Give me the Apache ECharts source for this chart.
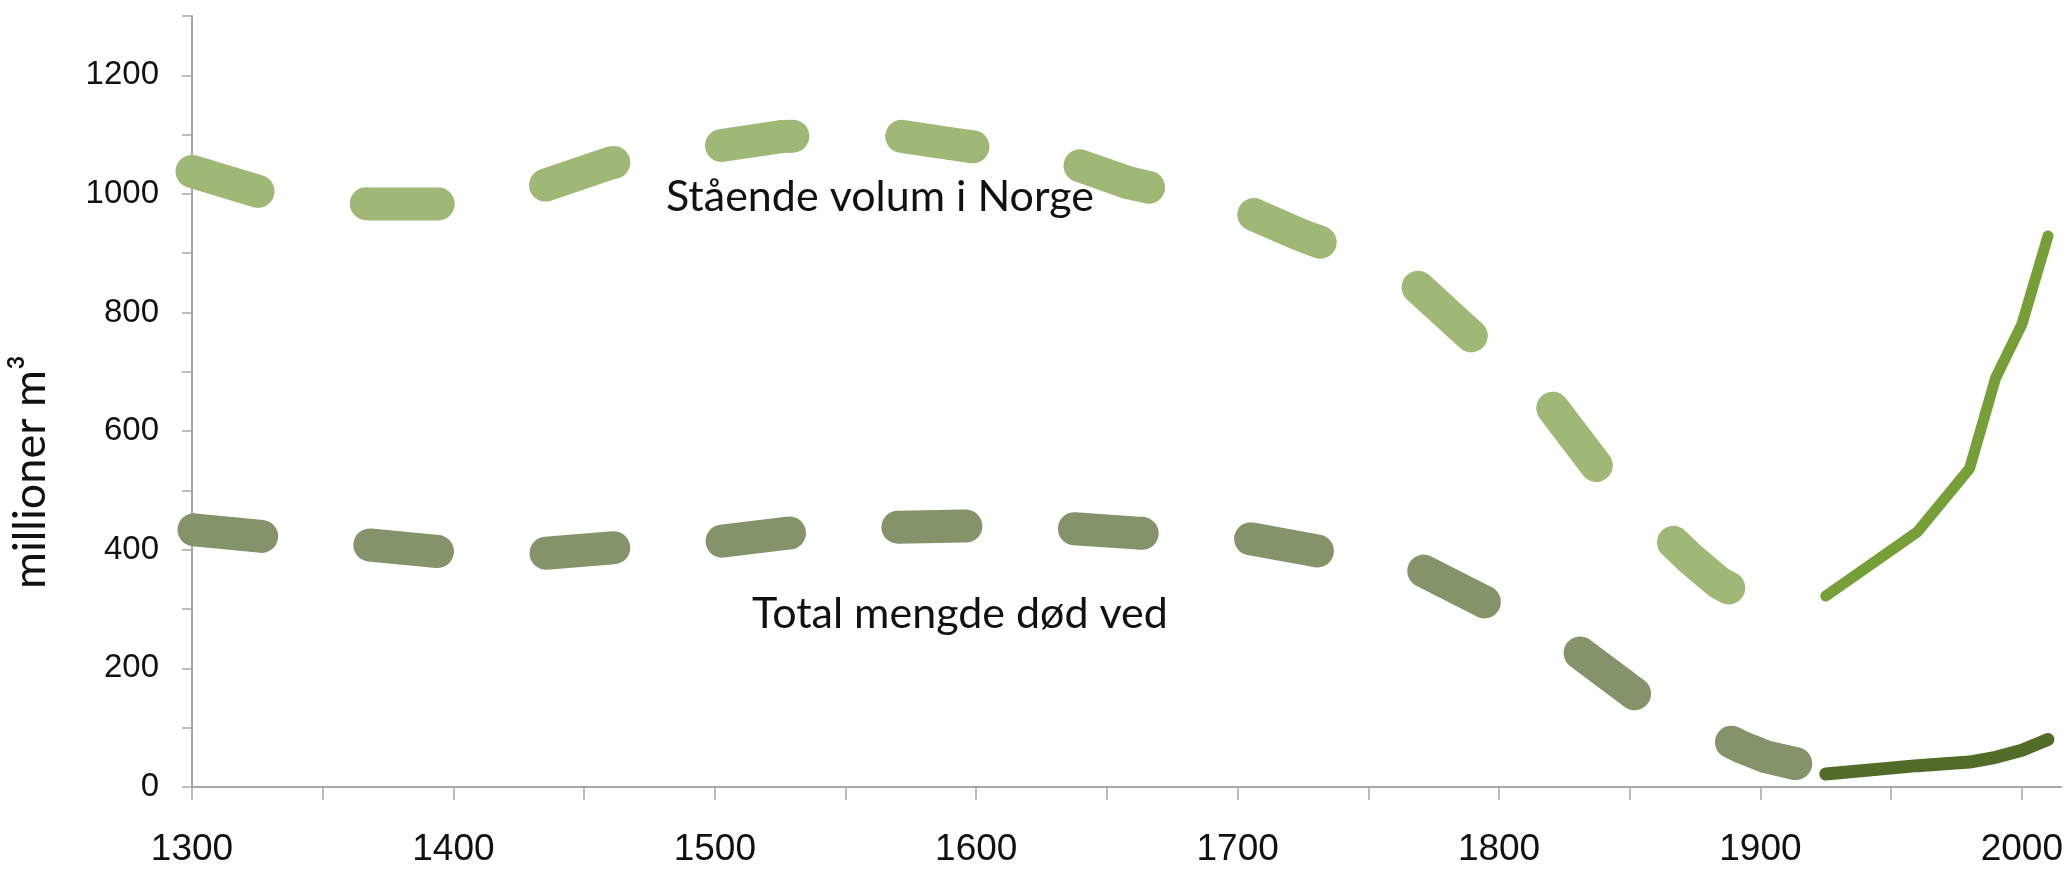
<!DOCTYPE html>
<html>
<head>
<meta charset="utf-8">
<script src="https://cdn.jsdelivr.net/npm/echarts@6/dist/echarts.min.js"></script>
<style>
html,body{margin:0;padding:0;background:#ffffff;}
#chart{width:2066px;height:874px;}
</style>
</head>
<body>
<div id="chart"></div>
<script>
// ---- data ----
const standingYears = [1300,1327,1368,1394,1434,1460,1500,1526,1567,1593,1633,1658,1699,1724,1763,1786,1820,1840,1873,1884,1899];
const standingValues = [1038,1002,983,983,1013,1052,1080,1097,1100,1083,1058,1019,979,931,867,774,642,526,386,345,309];

const deadYears = [1300,1328,1368,1394,1435,1460,1502,1528,1569,1595,1636,1662,1703,1728,1769,1794,1831,1855,1893,1902,1917];
const deadValues = [434,422,408,397,394,403,414,428,438,440,436,428,420,400,369,313,226,147,67,51,36];

const modernYears = [1925,1960,1980,1990,2000,2010];
const standingModern = [322,430,537,690,780,929];
const deadModern = [22,36,42,50,62,80];

const xLabelValues = [1300,1400,1500,1600,1700,1800,1900,2000];
const xTickValues = [1300,1350,1400,1450,1500,1550,1600,1650,1700,1750,1800,1850,1900,1950,2000];
const yLabelValues = [0,200,400,600,800,1000,1200];
const yTickValues = [0,100,200,300,400,500,600,700,800,900,1000,1100,1200,1300];

const labelStanding = 'Stående volum i Norge';
const labelDead = 'Total mengde død ved';
const yTitle = 'millioner m³';

function pairs(xs, ys) { return xs.map((x, i) => [x, ys[i]]); }

const axisGray = '#a6a6a6';
const axisFont = '"Liberation Sans", Arial, sans-serif';
const txtFont = 'Lato, "Noto Sans", sans-serif';

const chart = echarts.init(document.getElementById('chart'), null, {renderer: 'canvas'});

const dashed = (color, pattern, offset) => ({
  color: color, width: 33, type: pattern, dashOffset: offset, cap: 'round', join: 'round'
});

chart.setOption({
  animation: false,
  backgroundColor: '#ffffff',
  grid: {left: 192, right: 4, top: 16, bottom: 87, containLabel: false},
  xAxis: {
    type: 'value', min: 1300, max: 2015,
    splitLine: {show: false},
    axisLine: {show: true, lineStyle: {color: axisGray, width: 2}},
    axisTick: {show: true, length: 13, inside: false, customValues: xTickValues, lineStyle: {color: axisGray, width: 1.5}},
    axisLabel: {customValues: xLabelValues, margin: 44, color: '#111111', fontSize: 37, fontFamily: axisFont,
      formatter: (v) => String(v)}
  },
  yAxis: {
    type: 'value', min: 0, max: 1300,
    splitLine: {show: false},
    axisLine: {show: true, lineStyle: {color: axisGray, width: 2}},
    axisTick: {show: true, length: 10, inside: false, customValues: yTickValues, lineStyle: {color: axisGray, width: 1.5}},
    axisLabel: {customValues: yLabelValues, margin: 33, color: '#111111', fontSize: 33, fontFamily: axisFont,
      formatter: (v) => String(v)}
  },
  graphic: [
    {type: 'text', x: 666, y: 197, z: 10,
     style: {text: labelStanding, font: '43px ' + txtFont, fill: '#111111', align: 'left', textAlign: 'left', verticalAlign: 'middle', textVerticalAlign: 'middle'}},
    {type: 'text', x: 752, y: 614, z: 10,
     style: {text: labelDead, font: '43px ' + txtFont, fill: '#111111', align: 'left', textAlign: 'left', verticalAlign: 'middle', textVerticalAlign: 'middle'}},
    {type: 'text', x: 30, y: 472, rotation: Math.PI / 2, z: 10,
     style: {text: yTitle, font: '45px ' + txtFont, fill: '#111111', align: 'center', textAlign: 'center', verticalAlign: 'middle', textVerticalAlign: 'middle'}}
  ],
  series: [
    {name: 'Dead wood (modern)', type: 'line', data: pairs(modernYears, deadModern), showSymbol: false, symbol: 'none', z: 2,
     lineStyle: {color: '#506c26', width: 13, cap: 'round', join: 'round'}},
    {name: 'Standing volume (modern)', type: 'line', data: pairs(modernYears, standingModern), showSymbol: false, symbol: 'none', z: 2,
     lineStyle: {color: '#76a037', width: 11, cap: 'round', join: 'round'}},
    {name: labelDead, type: 'line', data: pairs(deadYears, deadValues), showSymbol: false, symbol: 'none', z: 3,
     lineStyle: dashed('#85936a', [68, 108.5], -2)},
    {name: labelStanding, type: 'line', data: pairs(standingYears, standingValues), showSymbol: false, symbol: 'none', z: 3,
     lineStyle: dashed('#a0b876', [72, 109], 3)}
  ]
});
</script>
</body>
</html>
